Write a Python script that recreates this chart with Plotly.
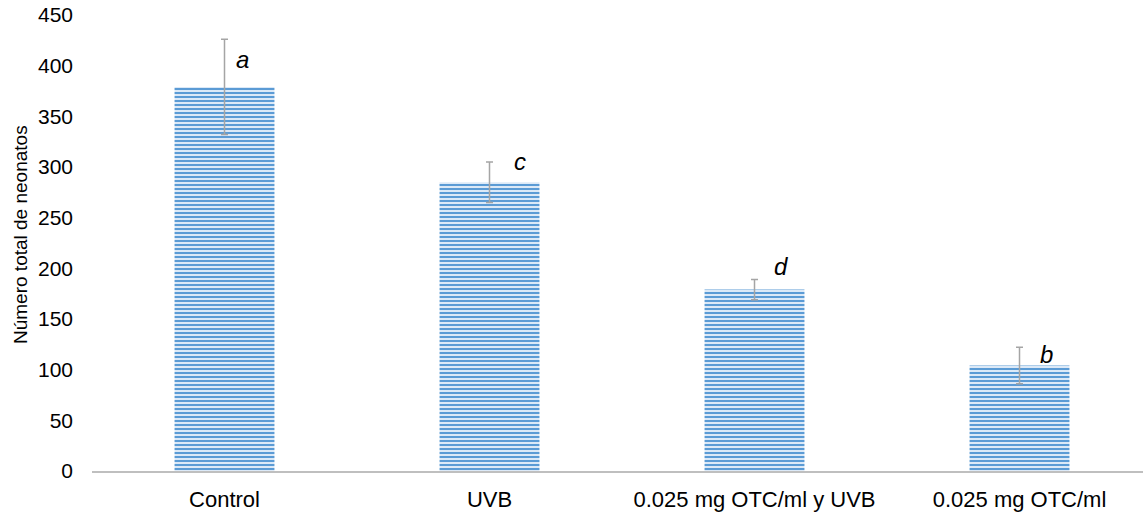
import plotly.graph_objects as go

categories = ["Control", "UVB", "0.025 mg OTC/ml y UVB", "0.025 mg OTC/ml"]
values = [379, 285, 179, 104]
errors = [47, 20, 10, 18]
letters = ["a", "c", "d", "b"]
y_ticks = [0, 50, 100, 150, 200, 250, 300, 350, 400, 450]
y_title = "Número total de neonatos"

font_family = "Liberation Sans, Arial, sans-serif"

fig = go.Figure()
fig.add_trace(go.Bar(
    x=categories,
    y=values,
    width=0.377,
    marker=dict(
        color="#DCE9F7",
        line=dict(width=0),
        pattern=dict(shape="-", fgcolor="#5B9BD5", bgcolor="#DCE9F7",
                     size=4, solidity=0.5, fillmode="replace"),
    ),
    error_y=dict(type="data", array=errors, visible=True,
                 color="#A5A5A5", thickness=1.5, width=3.5),
    showlegend=False,
))

xshifts = [18, 30, 26, 27]
yshifts = [27, 21, 23, 11]
for cat, v, lab, xs, ys in zip(categories, values, letters, xshifts, yshifts):
    fig.add_annotation(x=cat, y=v, text="<i>" + lab + "</i>", showarrow=False,
                       xshift=xs, yshift=ys,
                       font=dict(family=font_family, size=24, color="#000000"))

# y-axis title as rotated annotation (positioned like the reference)
fig.add_annotation(text=y_title, textangle=-90, showarrow=False,
                   xref="paper", yref="paper", x=0, y=(471 - 216) / 456,
                   xanchor="center", yanchor="middle", xshift=-92 + 20,
                   yshift=-19,
                   font=dict(family=font_family, size=19, color="#000000"))

fig.update_layout(
    width=1143, height=514,
    margin=dict(l=92, r=0, t=15, b=43),
    paper_bgcolor="white", plot_bgcolor="white",
    font=dict(family=font_family, size=20, color="#000000"),
    bargap=0.62,
)
fig.update_xaxes(
    range=[-0.5, 3.466],
    showline=True, linecolor="#BFBFBF", linewidth=2,
    showgrid=False, ticks="", ticklabelstandoff=8,
    tickfont=dict(size=22),
)
fig.update_yaxes(
    range=[0, 450], tickvals=y_ticks,
    showline=False, showgrid=False, zeroline=False, ticks="",
    ticklabelstandoff=18,
    tickfont=dict(size=21),
)

fig.write_html("out.html")
